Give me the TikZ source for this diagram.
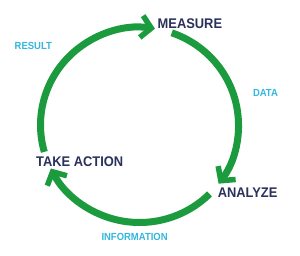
\documentclass[tikz,border=0pt]{standalone}
\usepackage{fontspec}
\setmainfont{Liberation Sans}[FakeStretch=0.92]
\usetikzlibrary{arrows.meta}
\definecolor{cyclegreen}{RGB}{28,155,62}
\definecolor{navytext}{RGB}{42,50,92}
\definecolor{labelblue}{RGB}{52,182,222}
\begin{document}
\begin{tikzpicture}[x=1pt,y=1pt,
  stage/.style={inner sep=0pt, anchor=base west, text=navytext, font=\fontsize{14}{16}\selectfont\bfseries},
  flowlabel/.style={inner sep=0pt, anchor=base west, text=labelblue, font=\fontsize{10.3}{12}\selectfont\bfseries},
  cyclearrow/.style={draw=cyclegreen, line width=7pt,
    -{Straight Barb[length=10pt,width=22pt,line width=5.5pt]}}]
\useasboundingbox[fill=white] (0,0) rectangle (300,256);
\coordinate (c) at (139.5,131);
\node[stage] (measure) at (157.5,227.7) {MEASURE};
\node[stage] (analyze) at (217.6,58.3) {ANALYZE};
\node[stage] (action) at (36,89.3) {TAKE ACTION};
\node[flowlabel] (result) at (14.5,206) {RESULT};
\node[flowlabel] (data) at (252.8,159) {DATA};
\node[flowlabel] (info) at (101.3,15.5) {INFORMATION};
\draw[cyclearrow] ([shift={(196:99 and 97.5)}]c) arc[start angle=196, end angle=81, x radius=99, y radius=97.5];
\draw[cyclearrow] ([shift={(71:99 and 97.5)}]c) arc[start angle=71, end angle=-37, x radius=99, y radius=97.5];
\draw[cyclearrow] ([shift={(-45:99 and 97.5)}]c) arc[start angle=-45, end angle=-153.5, x radius=99, y radius=97.5];
\end{tikzpicture}
\end{document}
